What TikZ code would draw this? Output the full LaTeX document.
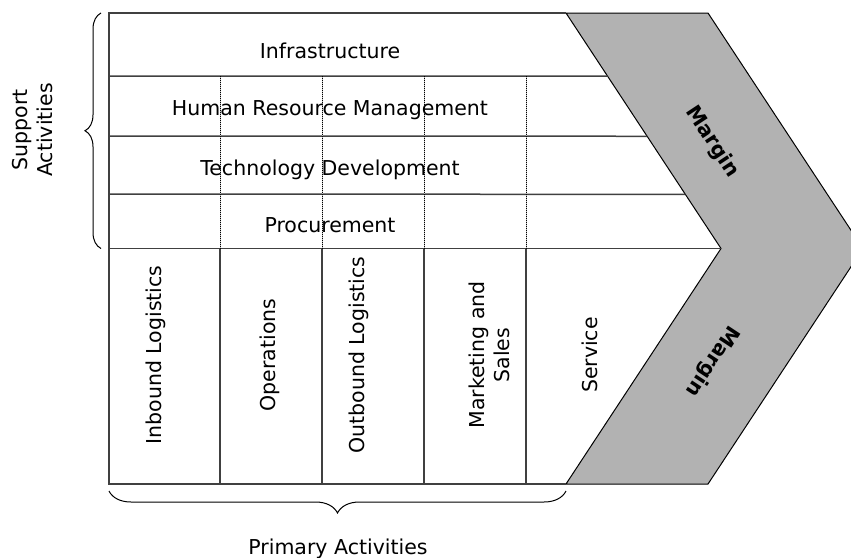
\documentclass[tikz,border=0pt]{standalone}
\usepackage{fontspec}
\setmainfont{DejaVu Sans}
\usetikzlibrary{decorations.pathreplacing,calc}
\definecolor{chevfill}{RGB}{178,178,178}
\definecolor{boxgray}{RGB}{64,64,64}
\begin{document}
\begin{tikzpicture}[x=1pt,y=-1pt,
  boxline/.style={draw=boxgray, line width=1.5pt},
  sepline/.style={draw=black, line width=1pt, densely dotted},
  chevron/.style={fill=chevfill, draw=black, line width=1pt},
  txt/.style={font=\fontsize{20.5}{25}\selectfont, inner sep=0pt, align=center},
  vtxt/.style={txt, rotate=90},
  margintxt/.style={font=\fontsize{20.5}{25}\selectfont\bfseries, inner sep=0pt},
  bracedraw/.style={draw=black, line width=1pt, decorate, decoration={brace, amplitude=#1}}]
\useasboundingbox (0,0) rectangle (851,557);

% chevron corners
\coordinate (A) at (566,13);
\coordinate (B) at (708,13);
\coordinate (T) at (863,248.5);
\coordinate (C) at (708,484);
\coordinate (D) at (566,484);
\coordinate (I) at (721,248.5);

\fill[chevron] (A) -- (B) -- (T) -- (C) -- (D) -- (I) -- cycle;

% outer box
\coordinate (TL) at (109,13);
\coordinate (BL) at (109,484);
\draw[boxline] (A) -- (TL) -- (BL) -- (D);

% support rows
\coordinate (r1) at (109,76);
\coordinate (r2) at (109,136);
\coordinate (r3) at (109,194);
\coordinate (r4) at (109,248.5);
\draw[boxline] (r1) -- ($(A)!0.2681!(I)$);
\draw[boxline] (r2) -- ($(A)!0.5234!(I)$);
\draw[boxline] (r3) -- ($(A)!0.7702!(I)$);
\draw[boxline] (r4) -- (I);

% dotted separators in support area
\foreach \x in {220,322,424,526} {
  \draw[draw=black!25, line width=1pt] (\x,76) -- (\x,248.5);
  \draw[sepline] (\x,76) -- (\x,248.5);
}
% primary columns
\foreach \x in {220,322,424,526} {
  \draw[boxline] (\x,248.5) -- (\x,484);
}

% support labels
\node[txt, anchor=base] (infra) at (330,58) {Infrastructure};
\node[txt, anchor=base] (hrm) at (330,115) {Human Resource Management};
\node[txt, anchor=base] (tech) at (330,175) {Technology Development};
\node[txt, anchor=base] (proc) at (330,232) {Procurement};

% primary labels
\node[vtxt, anchor=base] (inb) at (161,355) {Inbound Logistics};
\node[vtxt, anchor=base] (ops) at (275,355) {Operations};
\node[vtxt, anchor=base] (outb) at (364,355) {Outbound Logistics};
\node[vtxt] (mkt) at (489,355) {Marketing and\\Sales};
\node[vtxt, anchor=base] (serv) at (597,355) {Service};

% margin labels
\node[margintxt, rotate=-56.6] (m1) at (712,142) {Margin};
\node[margintxt, rotate=-123.4] (m2) at (712,361) {Margin};

% braces
\draw[bracedraw=16] (101,248.5) -- (101,13);
\draw[bracedraw=22] (566,491) -- (109,491);

\node[vtxt] (supp) at (33,130) {Support\\Activities};
\node[txt, anchor=base] (prim) at (338,554) {Primary Activities};
\end{tikzpicture}
\end{document}
